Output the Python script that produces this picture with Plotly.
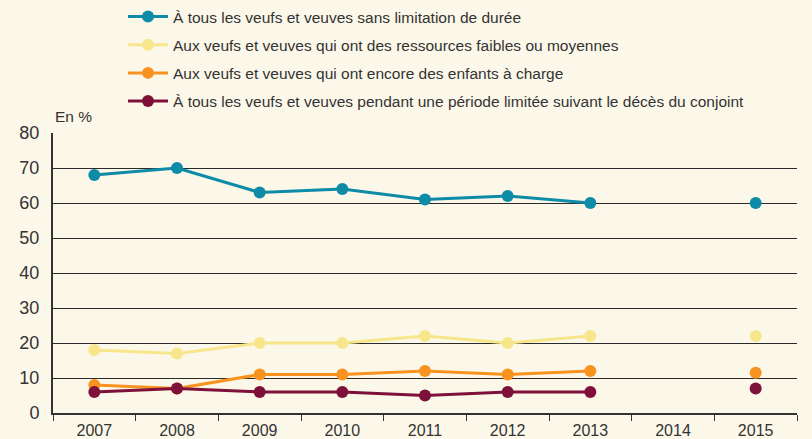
import plotly.graph_objects as go

years = ["2007", "2008", "2009", "2010", "2011", "2012", "2013", "2014", "2015"]
s_names = [
    "À tous les veufs et veuves sans limitation de durée",
    "Aux veufs et veuves qui ont des ressources faibles ou moyennes",
    "Aux veufs et veuves qui ont encore des enfants à charge",
    "À tous les veufs et veuves pendant une période limitée suivant le décès du conjoint",
]
sans_limitation = [68, 70, 63, 64, 61, 62, 60, None, 60]
ressources = [18, 17, 20, 20, 22, 20, 22, None, 22]
enfants = [8, 7, 11, 11, 12, 11, 12, None, 11.5]
periode_limitee = [6, 7, 6, 6, 5, 6, 6, None, 7]
colors = ["#0E8BA6", "#F8E68C", "#F7931E", "#7E1139"]

fig = go.Figure()
for i, (name, vals) in enumerate(zip(s_names, [sans_limitation, ressources, enfants, periode_limitee])):
    fig.add_trace(go.Scatter(
        x=years, y=vals, name=name, mode="lines+markers",
        line=dict(color=colors[i], width=3),
        marker=dict(color=colors[i], size=12),
        connectgaps=False, legendgroup=str(i),
    ))

font = "Liberation Sans Narrow, Arial Narrow, Liberation Sans, sans-serif"
bg = "#FCF8E9"
fig.update_layout(
    width=812, height=439,
    paper_bgcolor=bg, plot_bgcolor=bg,
    margin=dict(l=53, r=15, t=133, b=26, autoexpand=False),
    font=dict(family=font, size=16, color="#333333"),
    showlegend=True,
    legend=dict(x=123/812, xref="container", y=1.012, yref="container", yanchor="top",
                xanchor="left", orientation="v", traceorder="grouped", tracegroupgap=5,
                font=dict(size=15.5, family=font, color="#333333"), bgcolor="rgba(0,0,0,0)",
                itemwidth=40),
    xaxis=dict(type="category", tickson="boundaries", ticks="outside", ticklen=6,
               tickcolor="#333333", showline=True, linecolor="#333333", linewidth=2,
               showgrid=False, tickfont=dict(size=16), range=[-0.5, 8.5], automargin=False,
               ticklabelstandoff=2),
    yaxis=dict(range=[0, 80], dtick=10, showgrid=True, gridcolor="#2a2a2a", gridwidth=1.2,
               showline=True, linecolor="#333333", linewidth=2, zeroline=False,
               ticks="", tickfont=dict(size=18), automargin=False, ticklabelstandoff=8),
    annotations=[dict(text="En %", xref="paper", yref="paper", x=0, y=1, yshift=6,
                      xanchor="left", yanchor="bottom", showarrow=False,
                      font=dict(size=15.5, family=font, color="#333333"))],
)
fig.write_html("out.html", config={"displayModeBar": False},
               post_script="document.body.style.margin='0';document.body.style.background='%s';" % bg)
